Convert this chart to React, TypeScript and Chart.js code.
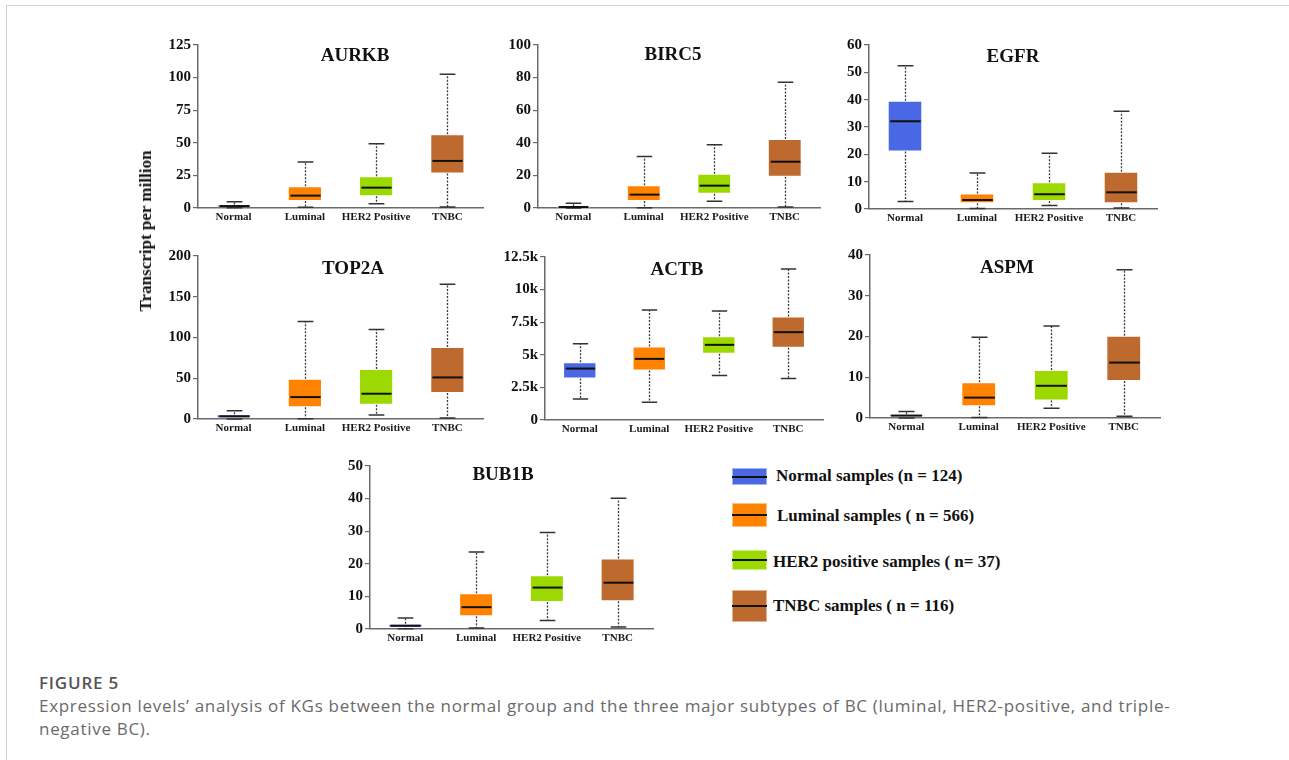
import React, { useEffect, useRef } from "react";
import { Chart, registerables } from "chart.js";

Chart.register(...registerables);

const SERIF = "'Liberation Serif', 'Times New Roman', serif";
Chart.defaults.font.family = SERIF;

// ---------- data ----------
const groups = ["Normal", "Luminal", "HER2 Positive", "TNBC"];
const groupColors = ["#4A68E4", "#FF8200", "#9CD900", "#BE692D"];

// five-number summaries per group: [min, q1, median, q3, max]
const aurkbStats = [
  [0.1, 0.6, 1.5, 2.6, 4.8],
  [0.5, 5.4, 9.5, 16.6, 35.3],
  [3.3, 9.0, 15.6, 24.3, 49.2],
  [0.8, 26.4, 36.1, 56.6, 102.5],
];
const birc5Stats = [
  [0, 0.2, 0.6, 1.0, 2.9],
  [0.1, 4.3, 8.2, 13.9, 31.6],
  [4.1, 8.8, 13.7, 21.0, 38.8],
  [0.6, 19.2, 28.4, 42.4, 77.1],
];
const egfrStats = [
  [2.7, 21.0, 32.1, 39.6, 52.4],
  [0.2, 2.1, 3.3, 5.7, 13.2],
  [1.3, 2.9, 5.4, 9.8, 20.4],
  [0.4, 2.1, 6.1, 13.6, 35.8],
];
const top2aStats = [
  [0, 0.8, 3.3, 5.7, 10.2],
  [0.4, 14.3, 26.9, 49.4, 119.6],
  [4.9, 17.6, 31.0, 61.2, 109.8],
  [1.2, 31.8, 51.0, 88.2, 165.3],
];
const actbStats = [
  [1614, 3176, 3945, 4431, 5840],
  [1358, 3791, 4688, 5635, 8427],
  [3407, 5072, 5763, 6430, 8350],
  [3176, 5533, 6737, 7940, 11578],
];
const aspmStats = [
  [0, 0.2, 0.6, 0.9, 1.6],
  [0.1, 2.9, 5.0, 8.8, 19.8],
  [2.4, 4.3, 7.9, 11.8, 22.6],
  [0.4, 9.1, 13.6, 20.2, 36.4],
];
const bub1bStats = [
  [0.1, 0.4, 1.0, 1.6, 3.4],
  [0.3, 3.9, 6.7, 11.0, 23.6],
  [2.6, 8.3, 12.7, 16.5, 29.6],
  [0.6, 8.5, 14.2, 21.6, 40.1],
];

const actbTickLabels = ["0", "2.5k", "5k", "7.5k", "10k", "12.5k"];

const legendLabels = [
  "Normal samples (n = 124)",
  "Luminal samples ( n = 566)",
  "HER2 positive samples ( n= 37)",
  "TNBC samples ( n = 116)",
];

const yAxisTitle = "Transcript per million";
const figureLabel = "FIGURE 5";
const captionLine1 =
  "Expression levels\u2019 analysis of KGs between the normal group and the three major subtypes of BC (luminal, HER2-positive, and triple-";
const captionLine2 = "negative BC).";

// ---------- layout ----------
type PanelSpec = {
  name: string;
  stats: number[][];
  yMax: number;
  step: number;
  tickLabels?: string[];
  L: number;
  T: number;
  R: number;
  B: number;
  titleX: number;
  titleY: number;
};

const panels: PanelSpec[] = [
  { name: "AURKB", stats: aurkbStats, yMax: 125, step: 25, L: 198, T: 45, R: 483, B: 207.7, titleX: 355, titleY: 56 },
  { name: "BIRC5", stats: birc5Stats, yMax: 100, step: 20, L: 538, T: 45, R: 820, B: 208.3, titleX: 673, titleY: 55 },
  { name: "EGFR", stats: egfrStats, yMax: 60, step: 10, L: 869, T: 45, R: 1157, B: 208.7, titleX: 1013, titleY: 57 },
  { name: "TOP2A", stats: top2aStats, yMax: 200, step: 50, L: 198, T: 255.7, R: 483, B: 419, titleX: 353, titleY: 269 },
  { name: "ACTB", stats: actbStats, yMax: 12500, step: 2500, tickLabels: actbTickLabels, L: 545, T: 257.3, R: 823, B: 420, titleX: 677, titleY: 270 },
  { name: "ASPM", stats: aspmStats, yMax: 40, step: 10, L: 870, T: 255, R: 1160, B: 418.3, titleX: 1007, titleY: 268 },
  { name: "BUB1B", stats: bub1bStats, yMax: 50, step: 10, L: 370, T: 465.7, R: 653, B: 629, titleX: 503, titleY: 475 },
];

const PAD_LEFT = 62;
const PAD_TOP = 12;
const PAD_RIGHT = 6;
const PAD_BOTTOM = 26;

function makeBoxPlugin(stats: number[][], title: string, tx: number, ty: number) {
  return {
    id: "boxWhiskers",
    afterDatasetsDraw(chart: any) {
      const ctx: CanvasRenderingContext2D = chart.ctx;
      const y = chart.scales.y;
      const meta = chart.getDatasetMeta(0);
      meta.data.forEach((bar: any, i: number) => {
        const [mn, q1, med, q3, mx] = stats[i];
        const x = Math.round(bar.x) + 0.5;
        const w = bar.width;
        const capW = w * 0.46;
        const pMin = y.getPixelForValue(mn);
        const pQ1 = y.getPixelForValue(q1);
        const pMed = y.getPixelForValue(med);
        const pQ3 = y.getPixelForValue(q3);
        const pMax = y.getPixelForValue(mx);
        ctx.save();
        ctx.strokeStyle = "#3a3a3a";
        ctx.lineWidth = 1.3;
        ctx.setLineDash([2, 1.5]);
        ctx.beginPath();
        ctx.moveTo(x, pQ3);
        ctx.lineTo(x, pMax);
        ctx.moveTo(x, pQ1);
        ctx.lineTo(x, pMin);
        ctx.stroke();
        ctx.setLineDash([]);
        ctx.strokeStyle = "#333";
        ctx.lineWidth = 1.5;
        ctx.beginPath();
        ctx.moveTo(x - capW / 2, pMax);
        ctx.lineTo(x + capW / 2, pMax);
        ctx.moveTo(x - capW / 2, pMin);
        ctx.lineTo(x + capW / 2, pMin);
        ctx.stroke();
        ctx.strokeStyle = "#111";
        ctx.lineWidth = 2;
        ctx.beginPath();
        ctx.moveTo(x - w / 2 + 2, pMed);
        ctx.lineTo(x + w / 2 - 2, pMed);
        ctx.stroke();
        ctx.restore();
      });
      ctx.save();
      ctx.fillStyle = "#111";
      ctx.font = `bold 19px ${SERIF}`;
      ctx.textAlign = "center";
      ctx.textBaseline = "middle";
      ctx.fillText(title, tx, ty);
      ctx.restore();
    },
  };
}

function BoxPanel({ spec }: { spec: PanelSpec }) {
  const ref = useRef<HTMLCanvasElement>(null);
  const left = spec.L - PAD_LEFT;
  const top = spec.T - PAD_TOP;
  const width = Math.round(spec.R - spec.L + PAD_LEFT + PAD_RIGHT);
  const height = Math.round(spec.B - spec.T + PAD_TOP + PAD_BOTTOM);

  useEffect(() => {
    if (!ref.current) return;
    const chart = new Chart(ref.current, {
      type: "bar",
      data: {
        labels: groups,
        datasets: [
          {
            data: spec.stats.map((s) => [s[1], s[3]]) as any,
            backgroundColor: groupColors,
            borderColor: "rgba(255,255,255,0.55)",
            borderWidth: 1,
            borderSkipped: false,
            barPercentage: 0.48,
            categoryPercentage: 1,
          },
        ],
      },
      options: {
        responsive: false,
        animation: false,
        layout: { padding: { top: PAD_TOP, right: PAD_RIGHT, left: 0, bottom: 0 } },
        plugins: {
          legend: { display: false },
          tooltip: { enabled: false },
          title: { display: false },
        },
        scales: {
          x: {
            grid: { display: false, drawTicks: false, tickLength: 0 },
            border: { display: true, color: "#6a6a6a", width: 1.5 },
            ticks: {
              font: { family: SERIF, size: 11, weight: "bold" },
              color: "#1a1a1a",
              padding: 3,
              maxRotation: 0,
              autoSkip: false,
            },
            afterFit: (s: any) => {
              s.height = PAD_BOTTOM;
            },
          },
          y: {
            min: 0,
            max: spec.yMax,
            ticks: {
              stepSize: spec.step,
              font: { family: SERIF, size: 15, weight: "bold" },
              color: "#111",
              padding: 2,
              callback: (v: any, idx: number) =>
                spec.tickLabels ? spec.tickLabels[idx] : String(v),
            },
            grid: {
              drawOnChartArea: false,
              drawTicks: true,
              tickLength: 5,
              color: "#6a6a6a",
              lineWidth: 1.2,
            },
            border: { display: true, color: "#6a6a6a", width: 1.5 },
            afterFit: (s: any) => {
              s.width = PAD_LEFT;
            },
          },
        },
      } as any,
      plugins: [makeBoxPlugin(spec.stats, spec.name, spec.titleX - left, spec.titleY - top)],
    });
    return () => chart.destroy();
  }, []);

  return (
    <canvas
      ref={ref}
      width={width}
      height={height}
      style={{ position: "absolute", left, top, width, height }}
    />
  );
}

const legendLayout = [
  { boxTop: 468, boxH: 17, textLeft: 776, textY: 477 },
  { boxTop: 503, boxH: 24, textLeft: 777, textY: 517 },
  { boxTop: 550, boxH: 20, textLeft: 773, textY: 563 },
  { boxTop: 590, boxH: 32, textLeft: 773, textY: 607 },
];

export default function App() {
  return (
    <div
      style={{
        position: "absolute",
        left: 0,
        top: 0,
        width: 1289,
        height: 760,
        background: "#fff",
        overflow: "hidden",
      }}
    >
      <div
        style={{
          position: "absolute",
          left: 6,
          top: 5,
          right: -2,
          bottom: -2,
          borderTop: "1.5px solid #d2d2d2",
          borderLeft: "1.5px solid #d2d2d2",
        }}
      />
      {panels.map((p) => (
        <BoxPanel key={p.name} spec={p} />
      ))}
      <div
        style={{
          position: "absolute",
          left: 146,
          top: 231,
          transform: "translate(-50%, -50%) rotate(-90deg)",
          whiteSpace: "nowrap",
          font: `bold 17px ${SERIF}`,
          color: "#111",
        }}
      >
        {yAxisTitle}
      </div>
      {legendLabels.map((lab, i) => {
        const lay = legendLayout[i];
        return (
          <React.Fragment key={lab}>
            <div
              style={{
                position: "absolute",
                left: 732,
                top: lay.boxTop,
                width: 35,
                height: lay.boxH,
                background: groupColors[i],
                boxShadow: "inset 0 0 0 1px rgba(255,255,255,0.5)",
              }}
            >
              <div
                style={{
                  position: "absolute",
                  left: 0,
                  right: 0,
                  top: lay.boxH / 2 - 1,
                  height: 2,
                  background: "#111",
                }}
              />
            </div>
            <div
              style={{
                position: "absolute",
                left: lay.textLeft,
                top: lay.textY - 11,
                height: 22,
                lineHeight: "22px",
                whiteSpace: "nowrap",
                font: `bold 17px ${SERIF}`,
                color: "#111",
              }}
            >
              {lab}
            </div>
          </React.Fragment>
        );
      })}
      <div
        style={{
          position: "absolute",
          left: 39,
          top: 672,
          fontFamily: "'Open Sans', 'Noto Sans', sans-serif",
          fontSize: 17,
          fontWeight: 600,
          letterSpacing: "0.8px",
          lineHeight: "22px",
          color: "#555",
          whiteSpace: "nowrap",
        }}
      >
        {figureLabel}
      </div>
      <div
        style={{
          position: "absolute",
          left: 39,
          top: 694,
          fontFamily: "'Open Sans', 'Noto Sans', sans-serif",
          fontSize: 17,
          fontWeight: 400,
          letterSpacing: "0.7px",
          lineHeight: "23px",
          color: "#6a6a6a",
          whiteSpace: "nowrap",
        }}
      >
        {captionLine1}
        <br />
        {captionLine2}
      </div>
    </div>
  );
}
